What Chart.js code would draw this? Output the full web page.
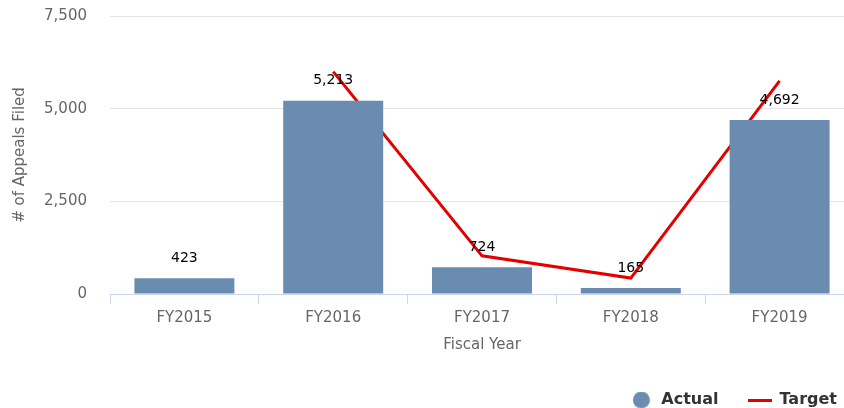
<!DOCTYPE html>
<html><head><meta charset="utf-8">
<script src="https://cdn.jsdelivr.net/npm/chart.js@4"></script>
<style>
html,body{margin:0;padding:0;overflow:hidden;background:#fff;width:844px;height:408px}
#wrap{position:absolute;left:0;top:0;width:854px;height:418px}
</style>
</head><body><div id="wrap"><canvas id="c"></canvas></div>
<script>
const categories = ['FY2015', 'FY2016', 'FY2017', 'FY2018', 'FY2019'];
const actualValues = [423, 5213, 724, 165, 4692];
const targetValues = [null, 6000, 1030, 430, 5750];
const yTickValues = [0, 2500, 5000, 7500];

const barColor = '#6a8cb1';
const lineColor = '#e50000';

function circleImg() {
  const c = document.createElement('canvas'); c.width = 17; c.height = 17;
  const x = c.getContext('2d'); x.fillStyle = barColor;
  x.beginPath(); x.arc(8.5, 8.5, 8.5, 0, Math.PI * 2); x.fill(); return c;
}
function lineImg() {
  const c = document.createElement('canvas'); c.width = 24; c.height = 3;
  const x = c.getContext('2d'); x.fillStyle = lineColor; x.fillRect(0, 0, 24, 3); return c;
}

Chart.defaults.font.family = '"DejaVu Sans", sans-serif';

const valueLabels = {
  id: 'valueLabels',
  afterDatasetsDraw(chart) {
    const meta = chart.getDatasetMeta(0);
    const ctx = chart.ctx;
    ctx.save();
    ctx.font = '14px "DejaVu Sans"';
    ctx.fillStyle = '#000';
    ctx.textAlign = 'center';
    ctx.textBaseline = 'middle';
    meta.data.forEach((bar, i) => {
      ctx.fillText(actualValues[i].toLocaleString('en-US'), bar.x, bar.y - 20);
    });
    ctx.restore();
  }
};
const legendShift = {
  id: 'legendShift',
  afterLayout(chart) { chart.legend.left += 12; chart.legend.right += 12; }
};

new Chart(document.getElementById('c'), {
  type: 'bar',
  data: {
    labels: categories,
    datasets: [
      { label: 'Actual', data: actualValues, backgroundColor: barColor, order: 0,
        categoryPercentage: 1, barPercentage: 0.672, pointStyle: circleImg() },
      { type: 'line', label: 'Target', data: targetValues, borderColor: lineColor, backgroundColor: lineColor,
        borderWidth: 3, pointRadius: 0, pointHoverRadius: 0, tension: 0, order: 1, spanGaps: false,
        pointStyle: lineImg() }
    ]
  },
  options: {
    responsive: true, maintainAspectRatio: false, animation: false,
    layout: { padding: { top: 16, left: 0, right: 0, bottom: 0 } },
    plugins: {
      tooltip: { enabled: false },
      legend: {
        position: 'bottom', align: 'end',
        labels: { usePointStyle: true, pointStyleWidth: 24, padding: 29,
          color: '#333', font: { size: 16, weight: 'bold' } }
      }
    },
    scales: {
      x: {
        grid: { display: true, drawOnChartArea: false, drawTicks: true, tickLength: 10, color: '#ccd6eb' },
        border: { color: '#ccd6eb' },
        ticks: { color: '#666', font: { size: 15 }, padding: 5 },
        title: { display: true, text: 'Fiscal Year', color: '#666', font: { size: 15 }, padding: { top: 4, bottom: 9 } }
      },
      y: {
        min: 0, max: 7500,
        afterBuildTicks(scale) { scale.ticks = yTickValues.map(v => ({ value: v })); },
        afterFit(scale) { scale.width = 110; },
        grid: { color: '#e6e6e6', drawTicks: true, tickLength: 23, tickColor: 'rgba(0,0,0,0)' },
        border: { display: false },
        ticks: { color: '#666', font: { size: 15 }, padding: 0,
          callback: v => v.toLocaleString('en-US') },
        title: { display: true, text: '# of Appeals Filed', color: '#666', font: { size: 15 }, padding: { top: 11, bottom: 4 } }
      }
    }
  },
  plugins: [valueLabels, legendShift]
});
</script>
</body></html>
